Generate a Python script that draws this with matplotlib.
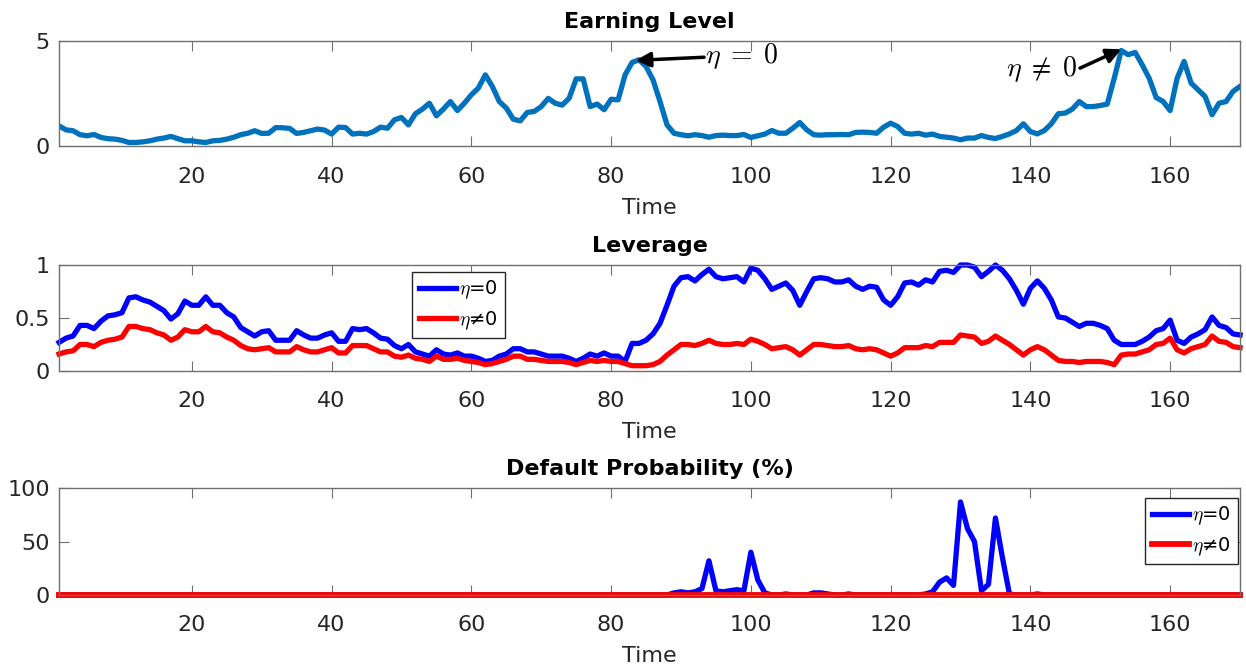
import numpy as np
import matplotlib
matplotlib.use("Agg")
import matplotlib.pyplot as plt

plt.rcParams["mathtext.fontset"] = "cm"

# time axis, 170 periods
time = np.arange(1, 171)

earning = [
    0.98, 0.79, 0.75, 0.56, 0.51, 0.57, 0.43, 0.37, 0.35, 0.29,
    0.19, 0.19, 0.22, 0.27, 0.35, 0.40, 0.48, 0.37, 0.27, 0.27,
    0.22, 0.19, 0.27, 0.29, 0.35, 0.44, 0.56, 0.63, 0.75, 0.62,
    0.63, 0.90, 0.89, 0.86, 0.62, 0.67, 0.75, 0.83, 0.78, 0.59,
    0.92, 0.90, 0.59, 0.63, 0.59, 0.71, 0.92, 0.87, 1.27, 1.38,
    1.03, 1.56, 1.78, 2.06, 1.46, 1.78, 2.14, 1.71, 2.06, 2.46,
    2.78, 3.41, 2.86, 2.14, 1.83, 1.30, 1.22, 1.62, 1.67, 1.90,
    2.29, 2.06, 1.97, 2.30, 3.22, 3.22, 1.90, 2.02, 1.75, 2.25,
    2.22, 3.41, 4.00, 4.13, 3.81, 3.17, 2.14, 1.03, 0.63, 0.56,
    0.51, 0.56, 0.52, 0.44, 0.52, 0.54, 0.52, 0.52, 0.57, 0.43,
    0.51, 0.59, 0.76, 0.63, 0.63, 0.87, 1.14, 0.79, 0.56, 0.54,
    0.56, 0.56, 0.57, 0.56, 0.67, 0.68, 0.67, 0.63, 0.92, 1.11,
    0.95, 0.63, 0.59, 0.63, 0.54, 0.59, 0.48, 0.44, 0.40, 0.32,
    0.40, 0.40, 0.52, 0.43, 0.38, 0.48, 0.60, 0.76, 1.08, 0.71,
    0.60, 0.76, 1.08, 1.56, 1.59, 1.78, 2.14, 1.90, 1.90, 1.95,
    2.02, 3.25, 4.57, 4.37, 4.48, 3.89, 3.25, 2.33, 2.14, 1.71,
    3.25, 4.05, 3.02, 2.70, 2.38, 1.51, 2.06, 2.14, 2.62, 2.86,
]

leverage_eta0 = [
    0.27, 0.31, 0.33, 0.43, 0.43, 0.40, 0.47, 0.52, 0.53, 0.55,
    0.69, 0.70, 0.67, 0.65, 0.61, 0.57, 0.49, 0.54, 0.66, 0.62,
    0.62, 0.70, 0.62, 0.62, 0.55, 0.51, 0.41, 0.37, 0.33, 0.37,
    0.38, 0.29, 0.29, 0.29, 0.38, 0.34, 0.31, 0.31, 0.34, 0.36,
    0.28, 0.28, 0.40, 0.39, 0.40, 0.36, 0.31, 0.30, 0.24, 0.21,
    0.25, 0.18, 0.16, 0.14, 0.20, 0.16, 0.15, 0.17, 0.14, 0.14,
    0.12, 0.09, 0.10, 0.14, 0.16, 0.21, 0.21, 0.18, 0.18, 0.16,
    0.14, 0.14, 0.14, 0.12, 0.09, 0.12, 0.16, 0.14, 0.17, 0.14,
    0.14, 0.09, 0.26, 0.26, 0.29, 0.35, 0.45, 0.62, 0.80, 0.88,
    0.89, 0.85, 0.91, 0.96, 0.89, 0.87, 0.88, 0.89, 0.84, 0.97,
    0.95, 0.87, 0.77, 0.80, 0.83, 0.76, 0.62, 0.75, 0.87, 0.88,
    0.87, 0.84, 0.84, 0.86, 0.80, 0.77, 0.80, 0.79, 0.67, 0.62,
    0.70, 0.83, 0.84, 0.81, 0.86, 0.84, 0.94, 0.95, 0.93, 1.00,
    1.00, 0.98, 0.89, 0.94, 1.00, 0.95, 0.87, 0.76, 0.63, 0.78,
    0.85, 0.78, 0.67, 0.51, 0.50, 0.46, 0.42, 0.45, 0.45, 0.43,
    0.40, 0.29, 0.25, 0.25, 0.25, 0.28, 0.32, 0.38, 0.40, 0.48,
    0.29, 0.26, 0.32, 0.35, 0.39, 0.51, 0.43, 0.41, 0.35, 0.34,
]

leverage_eta1 = [
    0.16, 0.18, 0.19, 0.25, 0.25, 0.23, 0.27, 0.29, 0.30, 0.32,
    0.42, 0.42, 0.40, 0.39, 0.36, 0.34, 0.29, 0.32, 0.39, 0.37,
    0.37, 0.42, 0.37, 0.36, 0.32, 0.29, 0.24, 0.21, 0.20, 0.21,
    0.22, 0.18, 0.18, 0.18, 0.23, 0.20, 0.18, 0.18, 0.20, 0.22,
    0.17, 0.17, 0.24, 0.24, 0.24, 0.21, 0.18, 0.18, 0.14, 0.13,
    0.15, 0.12, 0.11, 0.09, 0.14, 0.11, 0.11, 0.12, 0.10, 0.09,
    0.08, 0.06, 0.07, 0.09, 0.11, 0.14, 0.14, 0.11, 0.11, 0.10,
    0.09, 0.09, 0.09, 0.08, 0.06, 0.08, 0.10, 0.09, 0.10, 0.09,
    0.09, 0.07, 0.05, 0.05, 0.05, 0.06, 0.09, 0.15, 0.20, 0.25,
    0.25, 0.24, 0.26, 0.29, 0.26, 0.25, 0.25, 0.26, 0.25, 0.30,
    0.28, 0.25, 0.21, 0.22, 0.23, 0.20, 0.15, 0.20, 0.25, 0.25,
    0.24, 0.23, 0.23, 0.24, 0.21, 0.20, 0.21, 0.20, 0.17, 0.14,
    0.17, 0.22, 0.22, 0.22, 0.24, 0.23, 0.27, 0.27, 0.27, 0.34,
    0.33, 0.32, 0.26, 0.28, 0.33, 0.29, 0.25, 0.20, 0.15, 0.20,
    0.23, 0.20, 0.15, 0.10, 0.09, 0.09, 0.08, 0.09, 0.09, 0.09,
    0.08, 0.06, 0.15, 0.16, 0.16, 0.18, 0.20, 0.25, 0.26, 0.31,
    0.20, 0.17, 0.21, 0.23, 0.25, 0.33, 0.28, 0.27, 0.23, 0.22,
]

default_eta0 = [
    0, 0, 0, 0, 0, 0, 0, 0, 0, 0,
    0, 0, 0, 0, 0, 0, 0, 0, 0, 0,
    0, 0, 0, 0, 0, 0, 0, 0, 0, 0,
    0, 0, 0, 0, 0, 0, 0, 0, 0, 0,
    0, 0, 0, 0, 0, 0, 0, 0, 0, 0,
    0, 0, 0, 0, 0, 0, 0, 0, 0, 0,
    0, 0, 0, 0, 0, 0, 0, 0, 0, 0,
    0, 0, 0, 0, 0, 0, 0, 0, 0, 0,
    0, 0, 0, 0, 0, 0, 0, 0, 2, 3,
    2, 3, 6, 32, 4, 3, 4, 5, 4, 40,
    14, 2, 0, 0, 1, 0, 0, 0, 2, 2,
    1, 0, 0, 1, 0, 0, 0, 0, 0, 0,
    0, 0, 0, 0, 1, 3, 12, 16, 9, 87,
    62, 50, 4, 10, 72, 35, 1, 0, 0, 0,
    1, 0, 0, 0, 0, 0, 0, 0, 0, 0,
    0, 0, 0, 0, 0, 0, 0, 0, 0, 0,
    0, 0, 0, 0, 0, 0, 0, 0, 0, 0,
]

default_eta1 = [
    0, 0, 0, 0, 0, 0, 0, 0, 0, 0,
    0, 0, 0, 0, 0, 0, 0, 0, 0, 0,
    0, 0, 0, 0, 0, 0, 0, 0, 0, 0,
    0, 0, 0, 0, 0, 0, 0, 0, 0, 0,
    0, 0, 0, 0, 0, 0, 0, 0, 0, 0,
    0, 0, 0, 0, 0, 0, 0, 0, 0, 0,
    0, 0, 0, 0, 0, 0, 0, 0, 0, 0,
    0, 0, 0, 0, 0, 0, 0, 0, 0, 0,
    0, 0, 0, 0, 0, 0, 0, 0, 0, 0,
    0, 0, 0, 0, 0, 0, 0, 0, 0, 0,
    0, 0, 0, 0, 0, 0, 0, 0, 0, 0,
    0, 0, 0, 0, 0, 0, 0, 0, 0, 0,
    0, 0, 0, 0, 0, 0, 0, 0, 0, 0,
    0, 0, 0, 0, 0, 0, 0, 0, 0, 0,
    0, 0, 0, 0, 0, 0, 0, 0, 0, 0,
    0, 0, 0, 0, 0, 0, 0, 0, 0, 0,
    0, 0, 0, 0, 0, 0, 0, 0, 0, 0,
]

x_ticks = [20, 40, 60, 80, 100, 120, 140, 160]
earning_ticks = [0, 5]
leverage_ticks = [0, 0.5, 1]
default_ticks = [0, 50, 100]

AXIS_GRAY = "#6f6f6f"
TEXT_GRAY = "#262626"


def style_axes(ax, title, yticks, ylim):
    ax.set_xlim(1, 170)
    ax.set_ylim(*ylim)
    ax.set_xticks(x_ticks)
    ax.set_yticks(yticks)
    ax.set_yticklabels([f"{v:g}" for v in yticks])
    ax.tick_params(direction="in", top=True, right=True, length=7, width=0.8,
                   color=AXIS_GRAY, labelsize=16, labelcolor=TEXT_GRAY)
    ax.tick_params(axis="x", pad=14.5)
    ax.tick_params(axis="y", pad=6.5)
    for s in ax.spines.values():
        s.set_color(AXIS_GRAY)
        s.set_linewidth(1.0)
    ax.set_title(title, fontsize=16, fontweight="bold", pad=9.5)
    ax.set_xlabel("Time", fontsize=16, color=TEXT_GRAY, labelpad=8)


fig = plt.figure(figsize=(12.46, 6.67), dpi=100)
ax1 = fig.add_axes([0.0474, 0.7804, 0.9478, 0.1574])
ax2 = fig.add_axes([0.0474, 0.4438, 0.9478, 0.1589])
ax3 = fig.add_axes([0.0474, 0.1079, 0.9478, 0.1604])

# earning level
ax1.plot(time, earning, color="#0072BD", lw=3.8)
style_axes(ax1, "Earning Level", earning_ticks, (0, 5))
arrow = dict(arrowstyle="-|>", color="k", lw=2.5, mutation_scale=22,
             shrinkA=0, shrinkB=0)
ax1.annotate("", xy=(83.5, 4.1), xytext=(93.3, 4.25), arrowprops=arrow)
ax1.text(93.4, 4.28, r"$\eta\;=\;0$", fontsize=20, ha="left", va="center")
ax1.annotate("", xy=(153.0, 4.63), xytext=(147.1, 3.73), arrowprops=arrow)
ax1.text(146.6, 3.68, r"$\eta\;\neq\;0$", fontsize=20, ha="right", va="center")

# leverage
ax2.plot(time, leverage_eta0, color="b", lw=3.8, label=r"$\eta$=0", clip_on=False)
ax2.plot(time, leverage_eta1, color="r", lw=3.8, label=r"$\eta$≠0", clip_on=False)
style_axes(ax2, "Leverage", leverage_ticks, (0, 1))
leg_kw = dict(fontsize=14, fancybox=False, framealpha=1, edgecolor=TEXT_GRAY,
              handlelength=1.9, handletextpad=0.15, borderpad=0.35,
              labelspacing=0.4, borderaxespad=0)
leg = ax2.legend(loc="upper left", bbox_to_anchor=(0.299, 0.934), **leg_kw)
leg.get_frame().set_linewidth(1.0)

# default probability
ax3.plot(time, default_eta0, color="b", lw=3.8, label=r"$\eta$=0", clip_on=False)
ax3.plot(time, default_eta1, color="r", lw=4.2, label=r"$\eta$≠0", clip_on=False)
style_axes(ax3, "Default Probability (%)", default_ticks, (0, 100))
leg = ax3.legend(loc="upper right", bbox_to_anchor=(0.998, 0.907), **leg_kw)
leg.get_frame().set_linewidth(1.0)

fig.savefig("out.png", dpi=100)
